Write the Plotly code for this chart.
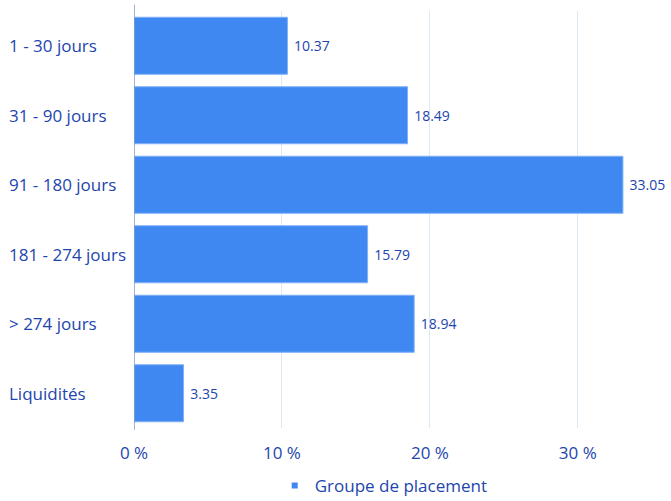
import plotly.graph_objects as go

categories = ["1 - 30 jours", "31 - 90 jours", "91 - 180 jours", "181 - 274 jours", "> 274 jours", "Liquidités"]
values = [10.37, 18.49, 33.05, 15.79, 18.94, 3.35]
series_name = "Groupe de placement"
x_ticks = [0, 10, 20, 30]
x_tick_labels = ["0 %", "10 %", "20 %", "30 %"]

BAR_COLOR = "#3f88f2"
TEXT_COLOR = "#1d45ad"
FONT = "Open Sans, Noto Sans, sans-serif"

fig = go.Figure()
fig.add_trace(
    go.Bar(
        x=values,
        y=categories,
        orientation="h",
        marker={"color": BAR_COLOR, "line": {"color": "#7fb0f6", "width": 1}},
        text=[f"\u00a0{v:.2f}" for v in values],
        textposition="outside",
        textfont={"size": 14, "color": TEXT_COLOR, "family": FONT},
        cliponaxis=False,
        showlegend=False,
    )
)
# legend entry with a small square symbol
fig.add_trace(
    go.Scatter(
        x=[None],
        y=[None],
        mode="markers",
        name=series_name,
        marker={"symbol": "square", "size": 6, "color": BAR_COLOR},
    )
)

# left-aligned category labels
for cat in categories:
    fig.add_annotation(
        x=-0.2365,
        xref="paper",
        y=cat,
        yref="y",
        text=cat,
        showarrow=False,
        xanchor="left",
        font={"size": 17, "color": TEXT_COLOR, "family": FONT},
    )

fig.update_layout(
    width=671,
    height=501,
    margin={"l": 134, "r": 0, "t": 11, "b": 73},
    plot_bgcolor="white",
    paper_bgcolor="white",
    bargap=0.18,
    font={"family": FONT, "color": TEXT_COLOR},
    xaxis={
        "range": [0, 36.3],
        "tickmode": "array",
        "tickvals": x_ticks,
        "ticktext": x_tick_labels,
        "tickfont": {"size": 17, "color": TEXT_COLOR},
        "ticklabelstandoff": 13,
        "showgrid": True,
        "gridcolor": "#dde8f6",
        "gridwidth": 1,
        "zeroline": False,
        "showline": False,
        "ticks": "",
    },
    yaxis={
        "categoryorder": "array",
        "categoryarray": categories[::-1],
        "showticklabels": False,
        "showgrid": False,
        "zeroline": False,
        "showline": False,
    },
    shapes=[
        {
            "type": "line",
            "xref": "x",
            "yref": "paper",
            "x0": 0,
            "x1": 0,
            "y0": -0.005,
            "y1": 1.015,
            "line": {"color": "#7f9ac8", "width": 1.5},
        }
    ],
    legend={
        "orientation": "h",
        "x": 0.465,
        "xanchor": "center",
        "yref": "container",
        "y": 0.03,
        "yanchor": "middle",
        "font": {"size": 17, "color": TEXT_COLOR},
        "itemwidth": 30,
    },
)

# drop the default body margin so the figure fills the window exactly
fig.write_html(
    "out.html",
    config={"displayModeBar": False},
    post_script="document.body.style.margin='0';document.body.style.overflow='hidden';",
)
